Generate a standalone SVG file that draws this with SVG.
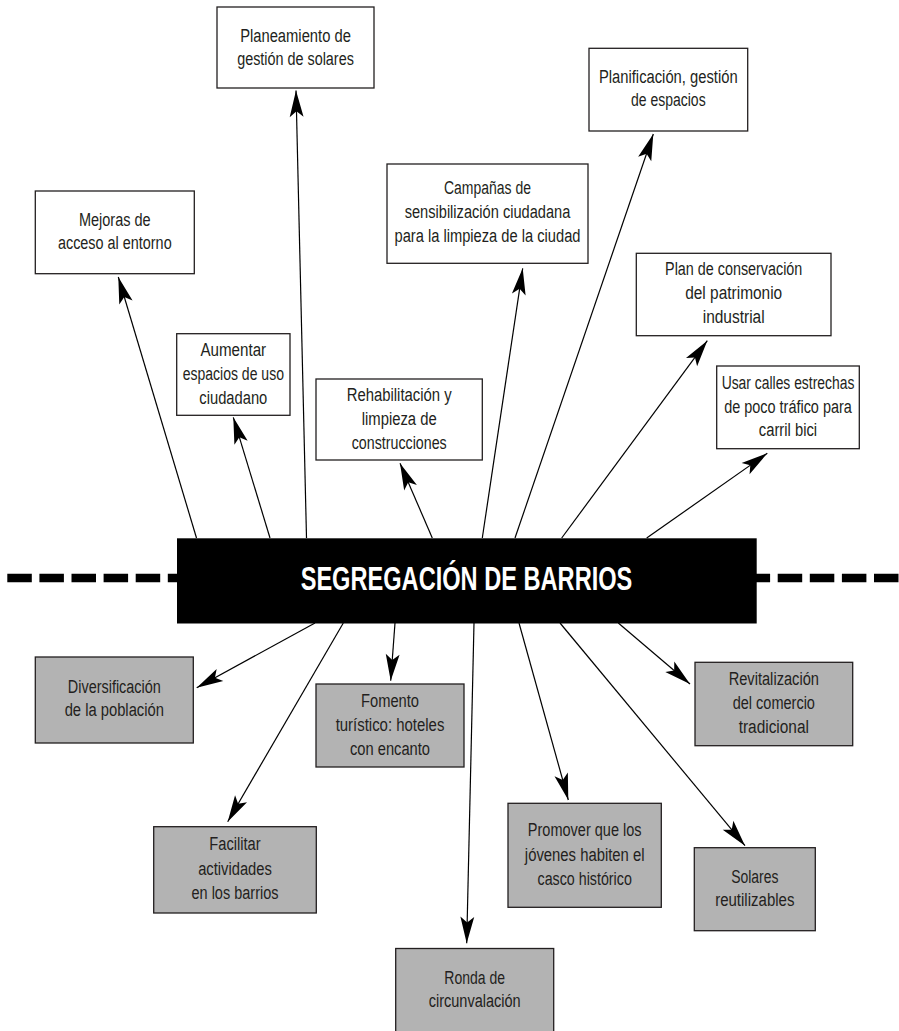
<svg xmlns="http://www.w3.org/2000/svg" width="899" height="1031" viewBox="0 0 899 1031">
  <style>
    .box { fill: #ffffff; stroke: #231f20; stroke-width: 1.3; }
    .box.grey { fill: #b3b3b3; }
    .lbl { font-family: "Liberation Sans", Arial, sans-serif; font-size: 18px; fill: #231f20; text-anchor: middle; }
    .title { font-family: "Liberation Sans", Arial, sans-serif; font-size: 32.5px; font-weight: bold; fill: #ffffff; text-anchor: middle; }
    .link { stroke: #000000; stroke-width: 1.2; fill: none; marker-end: url(#head); }
  </style>
  <defs>
    <marker id="head" markerUnits="userSpaceOnUse" markerWidth="30" markerHeight="20" viewBox="-24 -8 26 16" refX="0" refY="0" orient="auto">
      <path d="M0,0 L-23,-6 L-18,0 L-23,6 Z" fill="#000000"/>
    </marker>
  </defs>

  <rect width="899" height="1031" fill="#ffffff"/>

  <!-- horizontal dashed divider -->
  <line x1="7.3" y1="578" x2="899" y2="578" stroke="#000000" stroke-width="8.5" stroke-dasharray="24.5 7.6"/>

  <g id="connectors">
    <line class="link" x1="196.5" y1="538" x2="118.3" y2="277"/>
    <line class="link" x1="270" y1="538" x2="233.3" y2="417.3"/>
    <line class="link" x1="306.5" y1="538" x2="296" y2="90.5"/>
    <line class="link" x1="432.3" y1="538" x2="400" y2="463.3"/>
    <line class="link" x1="482.3" y1="538" x2="522.7" y2="268.3"/>
    <line class="link" x1="515" y1="538" x2="653.3" y2="134"/>
    <line class="link" x1="561.7" y1="538" x2="707.3" y2="340.7"/>
    <line class="link" x1="646.7" y1="538" x2="767.3" y2="453.3"/>
    <line class="link" x1="315" y1="623" x2="196.7" y2="687.7"/>
    <line class="link" x1="343.3" y1="623" x2="227.7" y2="821.7"/>
    <line class="link" x1="395" y1="623" x2="390.7" y2="680.7"/>
    <line class="link" x1="474" y1="623" x2="466.7" y2="943.3"/>
    <line class="link" x1="519" y1="623" x2="568.3" y2="800"/>
    <line class="link" x1="560" y1="623" x2="745" y2="845.7"/>
    <line class="link" x1="618.3" y1="623" x2="690" y2="684"/>
  </g>

  <g id="centro">
    <rect x="177" y="538.3" width="579.7" height="85.2" fill="#000000"/>
    <text class="title" x="466.5" y="590" textLength="331.7" lengthAdjust="spacingAndGlyphs">SEGREGACIÓN DE BARRIOS</text>
  </g>

  <g id="planeamiento">
    <rect class="box" x="217" y="7" width="157" height="81"/>
    <text class="lbl" x="295.5" y="41.5" textLength="110.7" lengthAdjust="spacingAndGlyphs">Planeamiento de</text>
    <text class="lbl" x="295.5" y="65" textLength="116.7" lengthAdjust="spacingAndGlyphs">gestión de solares</text>
  </g>

  <g id="mejoras">
    <rect class="box" x="35.3" y="191" width="159" height="82.7"/>
    <text class="lbl" x="114.8" y="225.5" textLength="71.7" lengthAdjust="spacingAndGlyphs">Mejoras de</text>
    <text class="lbl" x="114.8" y="249.2" textLength="113.7" lengthAdjust="spacingAndGlyphs">acceso al entorno</text>
  </g>

  <g id="planificacion">
    <rect class="box" x="589" y="48.3" width="158.7" height="82.7"/>
    <text class="lbl" x="668.3" y="83" textLength="138.7" lengthAdjust="spacingAndGlyphs">Planificación, gestión</text>
    <text class="lbl" x="668.3" y="106.3" textLength="74.7" lengthAdjust="spacingAndGlyphs">de espacios</text>
  </g>

  <g id="campanas">
    <rect class="box" x="387" y="164" width="201" height="99.3"/>
    <text class="lbl" x="487.5" y="194.3" textLength="87" lengthAdjust="spacingAndGlyphs">Campañas de</text>
    <text class="lbl" x="487.5" y="218.3" textLength="165.7" lengthAdjust="spacingAndGlyphs">sensibilización ciudadana</text>
    <text class="lbl" x="487.5" y="242.3" textLength="186" lengthAdjust="spacingAndGlyphs">para la limpieza de la ciudad</text>
  </g>

  <g id="conservacion">
    <rect class="box" x="636.3" y="253.3" width="194.7" height="82.4"/>
    <text class="lbl" x="733.7" y="275.3" textLength="137.3" lengthAdjust="spacingAndGlyphs">Plan de conservación</text>
    <text class="lbl" x="733.7" y="299.3" textLength="97" lengthAdjust="spacingAndGlyphs">del patrimonio</text>
    <text class="lbl" x="733.7" y="323.3" textLength="62" lengthAdjust="spacingAndGlyphs">industrial</text>
  </g>

  <g id="aumentar">
    <rect class="box" x="176.7" y="333.7" width="113.3" height="81.6"/>
    <text class="lbl" x="233.3" y="356.3" textLength="65.7" lengthAdjust="spacingAndGlyphs">Aumentar</text>
    <text class="lbl" x="233.3" y="380.3" textLength="101.3" lengthAdjust="spacingAndGlyphs">espacios de uso</text>
    <text class="lbl" x="233.3" y="404" textLength="68" lengthAdjust="spacingAndGlyphs">ciudadano</text>
  </g>

  <g id="rehabilitacion">
    <rect class="box" x="316" y="379" width="166.3" height="81"/>
    <text class="lbl" x="399.2" y="400.6" textLength="105" lengthAdjust="spacingAndGlyphs">Rehabilitación y</text>
    <text class="lbl" x="399.2" y="424.6" textLength="75" lengthAdjust="spacingAndGlyphs">limpieza de</text>
    <text class="lbl" x="399.2" y="449" textLength="95" lengthAdjust="spacingAndGlyphs">construcciones</text>
  </g>

  <g id="carril-bici">
    <rect class="box" x="716.7" y="366" width="142.6" height="82.7"/>
    <text class="lbl" x="788" y="389" textLength="132.7" lengthAdjust="spacingAndGlyphs">Usar calles estrechas</text>
    <text class="lbl" x="788" y="413" textLength="127.7" lengthAdjust="spacingAndGlyphs">de poco tráfico para</text>
    <text class="lbl" x="788" y="436.3" textLength="58.3" lengthAdjust="spacingAndGlyphs">carril bici</text>
  </g>

  <g id="diversificacion">
    <rect class="box grey" x="35.3" y="657" width="158" height="86"/>
    <text class="lbl" x="114.3" y="693" textLength="93" lengthAdjust="spacingAndGlyphs">Diversificación</text>
    <text class="lbl" x="114.3" y="716.3" textLength="99.3" lengthAdjust="spacingAndGlyphs">de la población</text>
  </g>

  <g id="fomento">
    <rect class="box grey" x="316" y="684" width="148" height="83"/>
    <text class="lbl" x="390" y="707" textLength="58" lengthAdjust="spacingAndGlyphs">Fomento</text>
    <text class="lbl" x="390" y="731" textLength="108.7" lengthAdjust="spacingAndGlyphs">turístico: hoteles</text>
    <text class="lbl" x="390" y="755" textLength="80" lengthAdjust="spacingAndGlyphs">con encanto</text>
  </g>

  <g id="facilitar">
    <rect class="box grey" x="153.7" y="826.7" width="162.6" height="86.3"/>
    <text class="lbl" x="235" y="850.3" textLength="51.3" lengthAdjust="spacingAndGlyphs">Facilitar</text>
    <text class="lbl" x="235" y="874.6" textLength="73.7" lengthAdjust="spacingAndGlyphs">actividades</text>
    <text class="lbl" x="235" y="898.6" textLength="87" lengthAdjust="spacingAndGlyphs">en los barrios</text>
  </g>

  <g id="ronda">
    <rect class="box grey" x="395.7" y="948.5" width="158" height="95"/>
    <text class="lbl" x="474.7" y="983.6" textLength="60.7" lengthAdjust="spacingAndGlyphs">Ronda de</text>
    <text class="lbl" x="474.7" y="1007.3" textLength="92" lengthAdjust="spacingAndGlyphs">circunvalación</text>
  </g>

  <g id="jovenes">
    <rect class="box grey" x="508" y="803.3" width="153.3" height="104"/>
    <text class="lbl" x="584.7" y="836.3" textLength="113.7" lengthAdjust="spacingAndGlyphs">Promover que los</text>
    <text class="lbl" x="584.7" y="860.6" textLength="119.7" lengthAdjust="spacingAndGlyphs">jóvenes habiten el</text>
    <text class="lbl" x="584.7" y="884.6" textLength="94.3" lengthAdjust="spacingAndGlyphs">casco histórico</text>
  </g>

  <g id="solares">
    <rect class="box grey" x="694.3" y="847.7" width="121" height="83"/>
    <text class="lbl" x="754.8" y="883" textLength="47.3" lengthAdjust="spacingAndGlyphs">Solares</text>
    <text class="lbl" x="754.8" y="906.3" textLength="79.3" lengthAdjust="spacingAndGlyphs">reutilizables</text>
  </g>

  <g id="comercio">
    <rect class="box grey" x="695" y="662.3" width="157.7" height="83.4"/>
    <text class="lbl" x="773.8" y="685.3" textLength="90.3" lengthAdjust="spacingAndGlyphs">Revitalización</text>
    <text class="lbl" x="773.8" y="709" textLength="82.3" lengthAdjust="spacingAndGlyphs">del comercio</text>
    <text class="lbl" x="773.8" y="733" textLength="70.3" lengthAdjust="spacingAndGlyphs">tradicional</text>
  </g>
</svg>
